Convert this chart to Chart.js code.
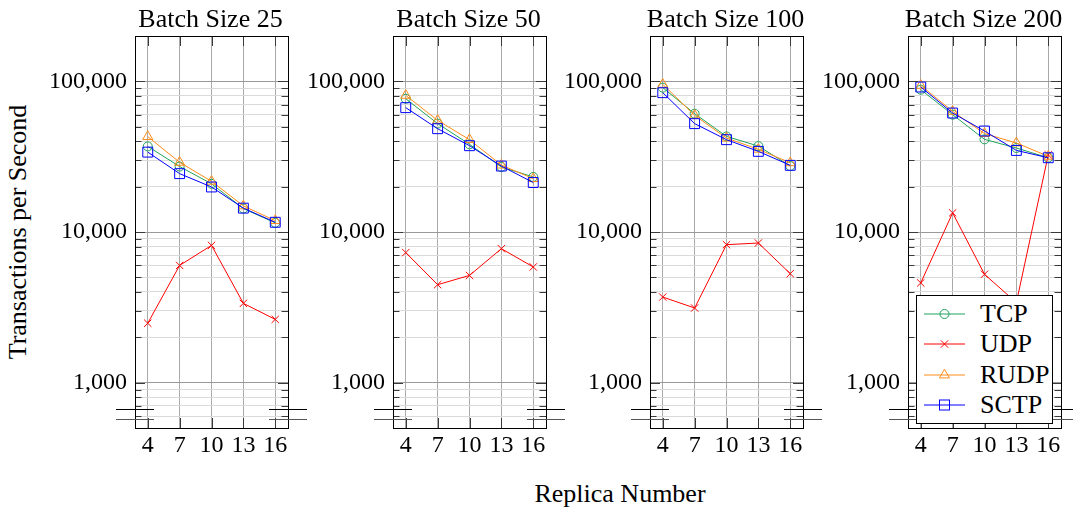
<!DOCTYPE html>
<html>
<head>
<meta charset="utf-8">
<script src="https://cdn.jsdelivr.net/npm/chart.js@4.4.0/dist/chart.umd.min.js"></script>
<style>
  html, body { margin: 0; padding: 0; background: #fff; }
  body { width: 1073px; height: 512px; position: relative; overflow: hidden;
         font-family: "Liberation Serif", "Times New Roman", serif; color: #000; }
  canvas { position: absolute; top: 0; }
  .txt { position: absolute; font-size: 26px; line-height: 1; white-space: nowrap; }
  .ptitle { top: 18.5px; transform: translate(-50%, -50%); }
  #ytitle { left: 18px; top: 232px; transform: translate(-50%, -50%) rotate(-90deg); }
  #xtitle { left: 620px; top: 494px; transform: translate(-50%, -50%); }
  #legend { position: absolute; left: 916px; top: 295px; width: 137px; height: 129px;
            box-sizing: border-box; border: 1px solid #000; background: #fff; }
  #legend svg { position: absolute; left: 0; top: 0; }
  #legend .item { position: absolute; left: 63px; font-size: 26px; line-height: 1;
                  transform: translateY(-50%); }
</style>
</head>
<body>
<div id="ytitle" class="txt">Transactions per Second</div>
<div id="xtitle" class="txt">Replica Number</div>
<div id="legend"></div>

<script>
// Replica counts on the x axis and the batch size of each panel
const replicas = [4, 7, 10, 13, 16];
const batchSizes = [25, 50, 100, 200];
const yMajorTicks = [1000, 10000, 100000];
const seriesNames = ['TCP', 'UDP', 'RUDP', 'SCTP'];

// Throughput (transactions per second), batch size 25
const tcp25  = [37000, 27200, 20900, 14300, 11500];
const udp25  = [2480, 6000, 8150, 3360, 2630];
const rudp25 = [43000, 29000, 21700, 14900, 11900];
const sctp25 = [33900, 24400, 19900, 14400, 11600];

// batch size 50
const tcp50  = [76700, 52400, 38200, 27000, 23200];
const udp50  = [7300, 4470, 5150, 7750, 5860];
const rudp50 = [80700, 55100, 41000, 27800, 22600];
const sctp50 = [66900, 48500, 37400, 27400, 21300];

// batch size 100
const tcp100  = [90800, 61000, 43100, 37200, 27400];
const udp100  = [3700, 3130, 8240, 8450, 5290];
const rudp100 = [95500, 59500, 42000, 35400, 28800];
const sctp100 = [84100, 52400, 41000, 34300, 27700];

// batch size 200
const tcp200  = [88100, 60100, 41200, 36100, 31100];
const udp200  = [4590, 13400, 5240, 3400, 32500];
const rudp200 = [94000, 63200, 45000, 39000, 31800];
const sctp200 = [91700, 61600, 46800, 34800, 31100];

const panelSeries = [
  [tcp25, udp25, rudp25, sctp25],
  [tcp50, udp50, rudp50, sctp50],
  [tcp100, udp100, rudp100, sctp100],
  [tcp200, udp200, rudp200, sctp200]
];

const Y_MIN = 500, Y_MAX = 200000;
const X_MIN = 2.8, X_MAX = 17.2;
const FONT = 'Liberation Serif';

// marker / colour per protocol
const styles = [
  { color: '#1fa35a', pointStyle: 'circle',   radius: 4.5, order: 3 },
  { color: '#ff0000', pointStyle: 'crossRot', radius: 5.2, order: 2 },
  { color: '#ff8c1a', pointStyle: 'triangle', radius: 5.8, order: 1 },
  { color: '#0000ff', pointStyle: 'rect',     radius: 7,   order: 0 }
];

// log-axis ticks: every 1..9 multiple of each decade inside the range
function logTicks() {
  const out = [];
  for (let d = 100; d <= 100000; d *= 10) {
    for (let m = 1; m <= 9; m++) {
      const v = m * d;
      if (v >= Y_MIN && v <= Y_MAX) out.push(v);
    }
  }
  return out;
}
const isMajor = v => yMajorTicks.includes(v);

// frame, inward tick marks and the broken-axis marks at the bottom
const framePlugin = {
  id: 'frame',
  afterDatasetsDraw(chart) {
    const { ctx, chartArea: a, scales: { x, y } } = chart;
    ctx.save();
    ctx.lineWidth = 1;
    ctx.strokeStyle = '#3a3a3a';
    ctx.beginPath();
    y.ticks.forEach(t => {
      if (t.value <= Y_MIN || t.value >= Y_MAX) return;
      const p = Math.round(y.getPixelForValue(t.value)) + 0.5;
      const len = isMajor(t.value) ? 10 : 6.5;
      ctx.moveTo(a.left, p); ctx.lineTo(a.left + len, p);
      ctx.moveTo(a.right, p); ctx.lineTo(a.right - len, p);
    });
    x.ticks.forEach(t => {
      const p = Math.round(x.getPixelForValue(t.value)) + 0.5;
      ctx.moveTo(p, a.top); ctx.lineTo(p, a.top + 10);
      ctx.moveTo(p, a.bottom); ctx.lineTo(p, a.bottom - 10);
    });
    ctx.stroke();

    ctx.strokeStyle = '#000';
    ctx.strokeRect(Math.round(a.left) + 0.5, Math.round(a.top) + 0.5,
                   Math.round(a.right - a.left), Math.round(a.bottom - a.top));

    // axis break: two short parallel strokes across both vertical edges
    const b1 = Math.round(a.bottom - 19) + 0.5;
    const b2 = Math.round(a.bottom - 9) + 0.5;
    const ext = 19;
    ctx.beginPath();
    ctx.strokeStyle = '#000';
    ctx.moveTo(a.left - ext, b1); ctx.lineTo(a.left + ext, b1);
    ctx.moveTo(a.right - ext, b1); ctx.lineTo(a.right + ext, b1);
    ctx.stroke();
    ctx.beginPath();
    ctx.strokeStyle = '#555';
    ctx.moveTo(a.left - ext, b2); ctx.lineTo(a.left + ext, b2);
    ctx.moveTo(a.right - ext, b2); ctx.lineTo(a.right + ext, b2);
    ctx.stroke();
    ctx.restore();
  }
};

const PANEL_LEFT = [135, 393, 650, 908];
const BOX_W = 153;
const MARGIN = 100;
const CANVAS_H = 470;
const TOP = 36;

batchSizes.forEach((bs, i) => {
  const cv = document.createElement('canvas');
  cv.width = BOX_W + 2 * MARGIN;
  cv.height = CANVAS_H;
  cv.style.left = (PANEL_LEFT[i] - MARGIN) + 'px';
  cv.style.width = cv.width + 'px';
  cv.style.height = cv.height + 'px';
  document.body.insertBefore(cv, document.getElementById('legend'));

  // panel heading, centred over the plot box
  const ttl = document.createElement('div');
  ttl.className = 'txt ptitle';
  ttl.style.left = (PANEL_LEFT[i] + BOX_W / 2 - 1) + 'px';
  ttl.textContent = 'Batch Size ' + bs;
  document.body.appendChild(ttl);

  const datasets = panelSeries[i].map((vals, k) => ({
    label: seriesNames[k],
    data: replicas.map((r, j) => ({ x: r, y: vals[j] })),
    borderColor: styles[k].color,
    backgroundColor: 'rgba(0,0,0,0)',
    borderWidth: 1,
    pointStyle: styles[k].pointStyle,
    pointRadius: styles[k].radius,
    pointBorderWidth: 1,
    pointBorderColor: styles[k].color,
    pointBackgroundColor: 'rgba(0,0,0,0)',
    tension: 0,
    order: styles[k].order
  }));

  new Chart(cv, {
    type: 'line',
    data: { datasets },
    plugins: [framePlugin],
    options: {
      responsive: false,
      animation: false,
      devicePixelRatio: 1,
      layout: { padding: { left: 0, right: MARGIN, top: TOP, bottom: 0 } },
      plugins: {
        legend: { display: false },
        tooltip: { enabled: false },
        title: { display: false }
      },
      scales: {
        x: {
          type: 'linear',
          min: X_MIN, max: X_MAX,
          afterBuildTicks: s => { s.ticks = replicas.map(v => ({ value: v })); },
          afterFit: s => { s.height = CANVAS_H - 428; },
          grid: { color: '#a9a9a9', lineWidth: 1, drawTicks: false },
          border: { display: false },
          ticks: {
            autoSkip: false, maxRotation: 0, padding: 3, color: '#000',
            font: { family: FONT, size: 24 },
            callback: v => String(v)
          }
        },
        y: {
          type: 'logarithmic',
          min: Y_MIN, max: Y_MAX,
          afterBuildTicks: s => { s.ticks = logTicks().map(v => ({ value: v, major: isMajor(v) })); },
          afterFit: s => { s.width = MARGIN; },
          grid: {
            drawTicks: false,
            lineWidth: 1,
            color: c => (c.tick && isMajor(c.tick.value)) ? '#9a9a9a' : '#dadada'
          },
          border: { display: false },
          ticks: {
            autoSkip: false, padding: 8, color: '#000',
            font: { family: FONT, size: 24 },
            callback: v => isMajor(v) ? v.toLocaleString('en-US') : ''
          }
        }
      }
    }
  });
});

// legend box for the last panel
(function buildLegend() {
  const lg = document.getElementById('legend');
  const rowY = [19, 49, 80, 110];
  const svgNS = 'http://www.w3.org/2000/svg';
  const svg = document.createElementNS(svgNS, 'svg');
  svg.setAttribute('width', 135); svg.setAttribute('height', 127);
  const mk = (tag, attrs) => {
    const el = document.createElementNS(svgNS, tag);
    Object.entries(attrs).forEach(([k, v]) => el.setAttribute(k, v));
    svg.appendChild(el);
  };
  seriesNames.forEach((name, k) => {
    const y = rowY[k] - 1, c = styles[k].color, cx = 27.5;
    mk('line', { x1: 7, x2: 48, y1: y, y2: y, stroke: c, 'stroke-width': 1 });
    if (k === 0) mk('circle', { cx, cy: y, r: 4.5, fill: 'none', stroke: c });
    if (k === 1) mk('path', { d: `M${cx-3.7},${y-3.7}L${cx+3.7},${y+3.7}M${cx-3.7},${y+3.7}L${cx+3.7},${y-3.7}`, stroke: c, fill: 'none' });
    if (k === 2) mk('path', { d: `M${cx},${y-5.8}L${cx+5},${y+2.9}L${cx-5},${y+2.9}Z`, stroke: c, fill: 'none' });
    if (k === 3) mk('rect', { x: cx - 5, y: y - 5, width: 10, height: 10, stroke: c, fill: 'none' });
    const t = document.createElement('div');
    t.className = 'item';
    t.style.top = (rowY[k] - 1) + 'px';
    t.textContent = name;
    lg.appendChild(t);
  });
  lg.appendChild(svg);
})();
</script>
</body>
</html>
